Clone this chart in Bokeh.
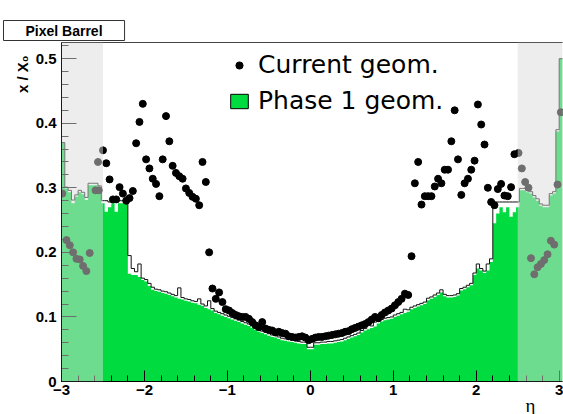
import numpy as np
from bokeh.plotting import figure
from bokeh.models import (Range1d, SingleIntervalTicker, LinearAxis, FixedTicker,
                          Legend, LegendItem, BoxAnnotation, Title)
from bokeh.embed import file_html
from bokeh.resources import INLINE

# ---------------- data ----------------
# histogram bin edges in eta (0.04 wide bins)
eta_edges = np.round(np.linspace(-3.0, 3.04, 152), 2)

# Phase 1 geometry (green filled histogram), one value per bin
phase1 = [
    0.370, 0.299, 0.293, 0.276, 0.286, 0.293, 0.290, 0.281, 0.304, 0.304,
    0.304, 0.300, 0.276, 0.263, 0.270, 0.276, 0.263, 0.276, 0.276, 0.276,
    0.167, 0.165, 0.165, 0.162, 0.157, 0.155, 0.148, 0.142, 0.140, 0.139,
    0.137, 0.136, 0.134, 0.132, 0.130, 0.128, 0.127, 0.125, 0.124, 0.122,
    0.121, 0.119, 0.117, 0.114, 0.112, 0.110, 0.106, 0.104, 0.102, 0.100,
    0.098, 0.096, 0.094, 0.092, 0.090, 0.088, 0.086, 0.083, 0.080, 0.077,
    0.075, 0.073, 0.071, 0.069, 0.068, 0.066, 0.064, 0.063, 0.062, 0.061,
    0.060, 0.059, 0.058, 0.058, 0.050, 0.050, 0.057, 0.057, 0.058, 0.058,
    0.059, 0.059, 0.060, 0.061, 0.062, 0.064, 0.066, 0.068, 0.070, 0.072,
    0.076, 0.079, 0.081, 0.083, 0.085, 0.090, 0.093, 0.095, 0.096, 0.097,
    0.100, 0.102, 0.104, 0.106, 0.108, 0.112, 0.114, 0.116, 0.118, 0.120,
    0.126, 0.128, 0.131, 0.134, 0.138, 0.132, 0.130, 0.130, 0.131, 0.133,
    0.141, 0.143, 0.146, 0.149, 0.165, 0.175, 0.172, 0.168, 0.172, 0.185,
    0.245, 0.260, 0.270, 0.262, 0.270, 0.255, 0.262, 0.270, 0.296, 0.296,
    0.293, 0.291, 0.285, 0.280, 0.272, 0.270, 0.270, 0.288, 0.291, 0.387,
    0.500,
]

# outline of the histogram (black step line, slightly above the fill)
phase1_outline = [
    0.370, 0.301, 0.296, 0.281, 0.289, 0.296, 0.293, 0.285, 0.307, 0.307,
    0.307, 0.303, 0.280, 0.280, 0.278, 0.280, 0.280, 0.280, 0.280, 0.280,
    0.195, 0.175, 0.170, 0.182, 0.160, 0.158, 0.152, 0.146, 0.143, 0.142,
    0.140, 0.139, 0.137, 0.135, 0.133, 0.145, 0.130, 0.128, 0.127, 0.125,
    0.124, 0.128, 0.120, 0.117, 0.125, 0.113, 0.109, 0.107, 0.105, 0.103,
    0.101, 0.099, 0.097, 0.095, 0.093, 0.091, 0.089, 0.086, 0.083, 0.080,
    0.078, 0.076, 0.074, 0.072, 0.071, 0.069, 0.067, 0.066, 0.065, 0.064,
    0.063, 0.062, 0.061, 0.061, 0.053, 0.053, 0.060, 0.060, 0.061, 0.061,
    0.062, 0.062, 0.063, 0.064, 0.065, 0.067, 0.069, 0.071, 0.073, 0.075,
    0.079, 0.082, 0.088, 0.086, 0.092, 0.093, 0.096, 0.098, 0.099, 0.100,
    0.103, 0.105, 0.107, 0.112, 0.111, 0.115, 0.117, 0.119, 0.121, 0.123,
    0.129, 0.131, 0.134, 0.137, 0.142, 0.135, 0.133, 0.133, 0.134, 0.136,
    0.144, 0.146, 0.149, 0.152, 0.168, 0.182, 0.175, 0.171, 0.182, 0.190,
    0.278, 0.278, 0.278, 0.278, 0.278, 0.278, 0.278, 0.278, 0.299, 0.299,
    0.296, 0.294, 0.288, 0.283, 0.275, 0.273, 0.273, 0.291, 0.294, 0.390,
    0.500,
]

# Current geometry (black dots)
current_eta = [
    -2.99, -2.94, -2.90, -2.86, -2.82, -2.78, -2.74, -2.70, -2.66, -2.59, -2.56, -2.55, -2.50,
    -2.46, -2.42, -2.38, -2.34, -2.30, -2.26, -2.22, -2.18, -2.14, -2.10, -2.06, -2.02,
    -1.98, -1.94, -1.90, -1.86, -1.82, -1.78, -1.74, -1.70, -1.66, -1.62, -1.58, -1.54,
    -1.50, -1.46, -1.42, -1.38, -1.34, -1.30, -1.26, -1.22, -1.18, -1.14, -1.10, -1.06,
    -1.02, -0.98, -0.94, -0.90, -0.86, -0.82, -0.78, -0.74, -0.70, -0.66, -0.62, -0.58,
    -0.54, -0.50, -0.46, -0.42, -0.38, -0.34, -0.30, -0.26, -0.22, -0.18, -0.14, -0.10,
    -0.06, -0.02, 0.02, 0.06, 0.10, 0.14, 0.18, 0.22, 0.26, 0.30, 0.34, 0.38, 0.42,
    0.46, 0.50, 0.54, 0.58, 0.62, 0.66, 0.70, 0.74, 0.78, 0.82, 0.86, 0.90, 0.94, 0.98,
    1.02, 1.06, 1.10, 1.14, 1.18, 1.22, 1.26, 1.30, 1.34, 1.38, 1.42, 1.46, 1.50, 1.54,
    1.58, 1.62, 1.66, 1.70, 1.74, 1.78, 1.82, 1.86, 1.90, 1.94, 1.98, 2.02, 2.06, 2.10,
    2.14, 2.18, 2.22, 2.26, 2.30, 2.34, 2.38, 2.42, 2.46, 2.51, 2.55, 2.59, 2.63, 2.66,
    2.70, 2.74, 2.78, 2.82, 2.86, 2.90, 2.94, 2.98, 3.02,
]
current_x0 = [
    0.291, 0.219, 0.211, 0.200, 0.190, 0.189, 0.179, 0.171, 0.199, 0.296, 0.340, 0.296, 0.358,
    0.338, 0.313, 0.282, 0.282, 0.301, 0.291, 0.280, 0.284, 0.295, 0.369, 0.402, 0.430,
    0.344, 0.330, 0.314, 0.306, 0.287, 0.344, 0.411, 0.372, 0.334, 0.323, 0.318, 0.314,
    0.299, 0.292, 0.286, 0.283, 0.273, 0.340, 0.309, 0.200, 0.144, 0.128, 0.138, 0.123,
    0.112, 0.110, 0.106, 0.103, 0.101, 0.100, 0.100, 0.097, 0.092, 0.087, 0.084, 0.092,
    0.082, 0.080, 0.079, 0.076, 0.077, 0.075, 0.074, 0.070, 0.069, 0.068, 0.069, 0.070,
    0.068, 0.064, 0.066, 0.068, 0.069, 0.069, 0.070, 0.071, 0.072, 0.073, 0.074, 0.075, 0.077,
    0.078, 0.081, 0.083, 0.085, 0.087, 0.089, 0.092, 0.096, 0.100, 0.098, 0.103, 0.107, 0.110, 0.113,
    0.118, 0.123, 0.128, 0.136, 0.134, 0.194, 0.307, 0.340, 0.274, 0.287, 0.287, 0.287, 0.302, 0.314,
    0.307, 0.328, 0.328, 0.372, 0.420, 0.344, 0.289, 0.307, 0.314, 0.328, 0.342, 0.429, 0.398, 0.367,
    0.300, 0.278, 0.273, 0.298, 0.306, 0.288, 0.287, 0.301, 0.352, 0.354, 0.330, 0.309, 0.300, 0.191,
    0.166, 0.177, 0.182, 0.188, 0.197, 0.218, 0.212, 0.305, 0.417,
]

x_ticks_major = 1.0
y_ticks_major = 0.1
barrel_limit = 2.5

GREEN = "#00dc40"
TICK_FONT = "Liberation Sans"

# ---------------- figure ----------------
p = figure(width=563, height=414, output_backend="svg", toolbar_location=None,
           x_range=Range1d(-3.0, 3.04), y_range=Range1d(0.0, 0.525),
           min_border_left=61, min_border_right=1, min_border_top=42, min_border_bottom=33,
           background_fill_color="white", border_fill_color="white")
p.title.text = ""
p.outline_line_color = None
p.xgrid.visible = False
p.ygrid.visible = False

step_x = list(eta_edges)
fill_y = list(phase1) + [phase1[-1]]
line_y = list(phase1_outline) + [phase1_outline[-1]]

p.varea_step(x=step_x, y1=[0.0] * len(step_x), y2=fill_y, step_mode="after",
             fill_color=GREEN)
p.step(x=step_x, y=line_y, mode="after", line_color="#111111", line_width=1)

dots_r = p.scatter(current_eta, current_x0, size=7, marker="circle",
                   fill_color="black", line_color="black")

# hidden bar renderer of the same histogram, used only for its legend swatch
proxy_r = p.quad(left=list(eta_edges[:-1]), right=list(eta_edges[1:]), top=phase1,
                 bottom=[0.0] * len(phase1), fill_color=GREEN,
                 line_color="black", line_width=1, visible=False)

# shaded region outside the barrel acceptance
for box in (BoxAnnotation(right=-barrel_limit), BoxAnnotation(left=barrel_limit)):
    box.fill_color = "#dcdcdc"
    box.fill_alpha = 0.5
    box.line_color = None
    p.add_layout(box)

# axes
xa = p.xaxis[0]
ya = p.yaxis[0]
xa.ticker = SingleIntervalTicker(interval=x_ticks_major, num_minor_ticks=5)
ya.ticker = SingleIntervalTicker(interval=y_ticks_major, num_minor_ticks=5)
for ax, mj, mn in ((xa, 11, 6), (ya, 15, 7)):
    ax.major_tick_in = mj
    ax.major_tick_out = 0
    ax.minor_tick_in = mn
    ax.minor_tick_out = 0
    ax.axis_line_color = "black"
    ax.major_tick_line_color = "black"
    ax.minor_tick_line_color = "black"
    ax.major_label_text_font = TICK_FONT
    ax.major_label_text_font_style = "bold"
    ax.major_label_text_font_size = "15px"
    ax.major_label_text_color = "black"
xa.major_label_standoff = 3
ya.major_label_standoff = 5

top_axis = LinearAxis(ticker=FixedTicker(ticks=[]), major_label_text_font_size="0px",
                      major_tick_in=0, major_tick_out=0, minor_tick_in=0, minor_tick_out=0,
                      major_label_standoff=0,
                      major_tick_line_color=None, minor_tick_line_color=None,
                      axis_line_color="#444444")
p.add_layout(top_axis, "above")

# title box "Pixel Barrel"
p.add_layout(Title(text="Pixel Barrel", align="left", offset=-58, standoff=0,
                   vertical_align="top", text_font=TICK_FONT, text_font_style="bold",
                   text_font_size="14px", text_line_height=1.0, text_color="black",
                   border_line_color="#333333", border_line_width=1,
                   background_fill_color="white",
                   padding=dict(left=22, right=22, top=2, bottom=2)), "above")

# invisible spacer between the frame and the title box
p.add_layout(Title(text=".", text_font_size="1px", text_alpha=0.0, standoff=14), "above")

# y-axis title at the top of the axis
p.add_layout(Title(text="x / X₀", align="right", offset=13, standoff=3,
                   text_font=TICK_FONT, text_font_style="bold",
                   text_font_size="15px", text_color="black"), "left")

# x-axis title at the right end
p.add_layout(Title(text="η", align="right", offset=27, standoff=-10,
                   text_font="Liberation Serif", text_font_style="normal",
                   text_font_size="19px", text_color="black"), "below")

legend = Legend(items=[LegendItem(label="Current geom.", renderers=[dots_r]),
                       LegendItem(label="Phase 1 geom.", renderers=[proxy_r])],
                location=(167, 266), orientation="vertical",
                border_line_color=None, background_fill_alpha=0.0,
                label_text_font="DejaVu Sans", label_text_font_size="25px",
                label_text_color="black", glyph_width=22, glyph_height=18,
                label_standoff=8, spacing=7, padding=0, margin=0)
p.add_layout(legend)

open("out.html", "w").write(file_html(p, INLINE))
